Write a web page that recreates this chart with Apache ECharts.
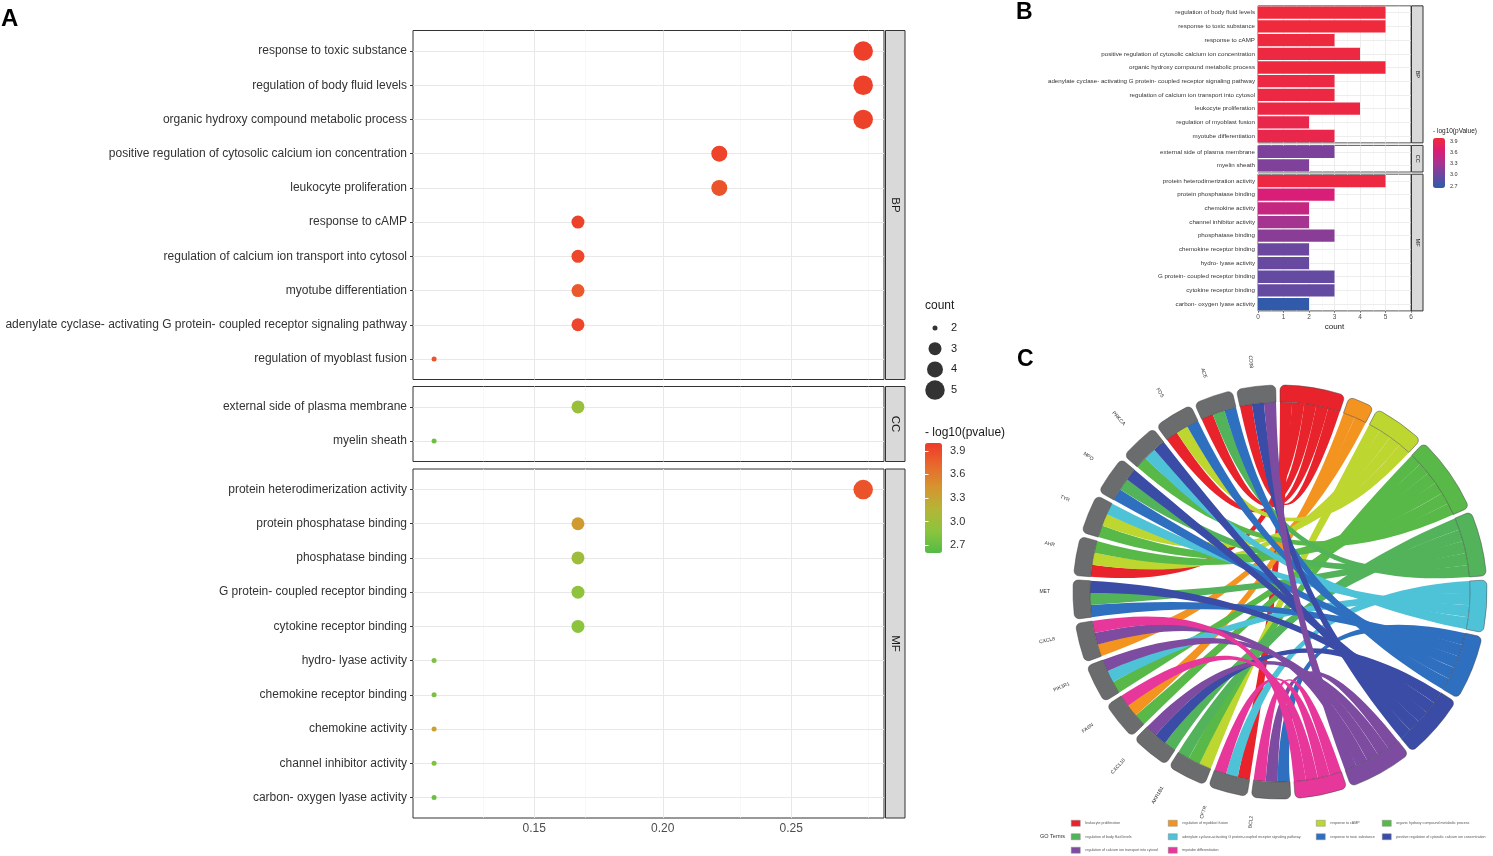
<!DOCTYPE html>
<html><head><meta charset="utf-8">
<script src="https://cdn.jsdelivr.net/npm/echarts@6.0.0/dist/echarts.min.js"></script>
<style>html,body{margin:0;padding:0;background:#fff}#c{width:1493px;height:856px}</style>
</head><body><div id="c"></div>
<script>
// ================= DATA =================
// ---- Panel A (dot plot): GeneRatio, count, -log10(pvalue) ----
const catsA_BP = ["response to toxic substance","regulation of body fluid levels","organic hydroxy compound metabolic process","positive regulation of cytosolic calcium ion concentration","leukocyte proliferation","response to cAMP","regulation of calcium ion transport into cytosol","myotube differentiation","adenylate cyclase- activating G protein- coupled receptor signaling pathway","regulation of myoblast fusion"];
const ratioA_BP = [0.278,0.278,0.278,0.222,0.222,0.167,0.167,0.167,0.167,0.111];
const countA_BP = [5,5,5,4,4,3,3,3,3,2];
const pvalA_BP  = [3.97,3.96,3.95,3.94,3.85,3.95,3.93,3.82,3.93,3.84];

const catsA_CC = ["external side of plasma membrane","myelin sheath"];
const ratioA_CC = [0.167,0.111];
const countA_CC = [3,2];
const pvalA_CC  = [2.97,2.72];

const catsA_MF = ["protein heterodimerization activity","protein phosphatase binding","phosphatase binding","G protein- coupled receptor binding","cytokine receptor binding","hydro- lyase activity","chemokine receptor binding","chemokine activity","channel inhibitor activity","carbon- oxygen lyase activity"];
const ratioA_MF = [0.278,0.167,0.167,0.167,0.167,0.111,0.111,0.111,0.111,0.111];
const countA_MF = [5,3,3,3,3,2,2,2,2,2];
const pvalA_MF  = [3.85,3.38,3.0,2.9,2.88,2.8,2.78,3.35,2.82,2.72];

const xTicksA = [0.15,0.20,0.25];
const xMinorA = [0.125,0.175,0.225,0.275];
const sizeLegendA = ["2","3","4","5"];
const colorTicksA = [2.7,3.0,3.3,3.6,3.9];

// ---- Panel B (bar chart): count, -log10(pValue) ----
const catsB_BP = ["regulation of body fluid levels","response to toxic substance","response to cAMP","positive regulation of cytosolic calcium ion concentration","organic hydroxy compound metabolic process","adenylate cyclase- activating G protein- coupled receptor signaling pathway","regulation of calcium ion transport into cytosol","leukocyte proliferation","regulation of myoblast fusion","myotube differentiation"];
const countB_BP = [5,5,3,4,5,3,3,4,2,3];
const pvalB_BP  = [3.97,3.97,3.95,3.94,3.96,3.93,3.93,3.92,3.88,3.88];

const catsB_CC = ["external side of plasma membrane","myelin sheath"];
const countB_CC = [3,2];
const pvalB_CC  = [3.08,3.1];

const catsB_MF = ["protein heterodimerization activity","protein phosphatase binding","chemokine activity","channel inhibitor activity","phosphatase binding","chemokine receptor binding","hydro- lyase activity","G protein- coupled receptor binding","cytokine receptor binding","carbon- oxygen lyase activity"];
const countB_MF = [5,3,2,2,3,2,2,3,3,2];
const pvalB_MF  = [3.93,3.62,3.5,3.3,3.15,2.98,2.97,2.95,2.95,2.68];
const colorTicksB = [2.7,3.0,3.3,3.6,3.9];

// ---- Panel C (GO chord) ----
const chordTerms = ["leukocyte proliferation","regulation of myoblast fusion","response to cAMP","organic hydroxy compound metabolic process","regulation of body fluid levels","adenylate cyclase-activating G protein-coupled receptor signaling pathway","response to toxic substance","positive regulation of cytosolic calcium ion concentration","regulation of calcium ion transport into cytosol","myotube differentiation"];
// genes in clockwise order (bottom -> top along the left side)
const chordGenes = ["BCL2","CFTR","AKR1B1","CXCL10","FASN","PIK3R1","CXCL8","MET","AHR","TYR","MPO","PRKCA","FOS","ACE","CD38"];
// term memberships (indices into chordTerms) for each gene
const geneTerms = [[6,8,9],[0,5,9],[2,3,4],[4,7,8],[3,1,9],[3,5,8],[1,8,9],[6,4,7],[0,2,3],[3,2,5],[6,4,7],[3,5,7],[0,2,6],[0,4,6],[0,7,8]];

// ================= STYLE =================
const FONT = '"Liberation Sans", Arial, Helvetica, sans-serif';
const SIZE_A = {2:5, 3:13, 4:16, 5:19.5};
const colorsA = ['#55bb47','#8cc43e','#b5b536','#d6942f','#e8682c','#ee3a2a'];
const colorsB = ['#2b5cab','#6a48a0','#a8338f','#dc1c74','#ef2a3a'];
const ribbonColors = ['#e8232c','#f39420','#bed630','#58b848','#52b35a','#4ec3d8','#2f6fc0','#3a4ca6','#7d4b9f','#e8379b'];
const GENE_GRAY = '#6b6c6e';

const option = {animation:false, backgroundColor:'#fff', textStyle:{fontFamily:FONT},
  grid:[], xAxis:[], yAxis:[], series:[], graphic:[], visualMap:[], legend:[]};
function addGrid(g){ option.grid.push(Object.assign({outerBoundsMode:'none', containLabel:false}, g)); return option.grid.length-1; }
function addX(a){ option.xAxis.push(a); return option.xAxis.length-1; }
function addY(a){ option.yAxis.push(a); return option.yAxis.length-1; }
function addS(s){ option.series.push(s); return option.series.length-1; }
function txt(x,y,text,size,opts){ option.graphic.push(Object.assign({type:'text', x:x, y:y, silent:true, z:50,
  style:Object.assign({text:text, x:0, y:0, font:(opts&&opts.weight?opts.weight+' ':'')+size+'px '+FONT, fill:(opts&&opts.fill)||'#1a1a1a', align:(opts&&opts.align)||'left', verticalAlign:'middle'},(opts&&opts.style)||{})}, (opts&&opts.el)||{})); }
function rect(x,y,w,h){ option.graphic.push({type:'rect', silent:true, z:40, shape:{x:x,y:y,width:w,height:h}, style:{fill:'#d9d9d9', stroke:'#333', lineWidth:1}}); }

// ================= PANEL A =================
const facetsA = [
  {cats:catsA_BP, ratio:ratioA_BP, count:countA_BP, p:pvalA_BP, top:30.5, height:349, strip:'BP'},
  {cats:catsA_CC, ratio:ratioA_CC, count:countA_CC, p:pvalA_CC, top:386.5, height:75, strip:'CC'},
  {cats:catsA_MF, ratio:ratioA_MF, count:countA_MF, p:pvalA_MF, top:469, height:349, strip:'MF'}
];
const seriesA = [];
facetsA.forEach((f,k)=>{
  const last = k===facetsA.length-1;
  const n = f.cats.length;
  const idx = f.cats.map((c,j)=>j);
  const gi = addGrid({left:413, top:f.top, width:471, height:f.height, show:true, borderColor:'#333', borderWidth:1, backgroundColor:'#fff'});
  const xi = addX({gridIndex:gi, type:'value', min:0.1028, max:0.2861, axisLine:{show:false}, splitLine:{show:false},
    axisTick:{show:last, customValues:xTicksA, length:3, lineStyle:{color:'#333'}},
    axisLabel:{show:last, customValues:xTicksA, formatter:v=>v.toFixed(2), fontSize:12, color:'#4d4d4d', margin:5}});
  const yi = addY({gridIndex:gi, type:'value', inverse:true, min:-0.6, max:n-0.4, axisLine:{show:false}, splitLine:{show:false},
    axisTick:{show:true, customValues:idx, length:3, lineStyle:{color:'#333'}},
    axisLabel:{customValues:idx, formatter:v=>f.cats[Math.round(v)], fontSize:12, color:'#333', margin:6}});
  const grid = [].concat(
    xMinorA.map(v=>({xAxis:v, lineStyle:{color:'#f3f3f3', width:0.6, type:'solid'}})),
    xTicksA.map(v=>({xAxis:v, lineStyle:{color:'#e8e8e8', width:1, type:'solid'}})),
    idx.map(j=>({yAxis:j, lineStyle:{color:'#e8e8e8', width:1, type:'solid'}})));
  seriesA.push(addS({type:'scatter', xAxisIndex:xi, yAxisIndex:yi, z:3,
    data:f.cats.map((c,j)=>[f.ratio[j], j, f.p[j], f.count[j]]),
    symbolSize:v=>SIZE_A[v[3]], itemStyle:{opacity:1}, emphasis:{disabled:true},
    markLine:{silent:true, symbol:'none', z:1, animation:false, label:{show:false}, lineStyle:{type:'solid'}, data:grid}}));
  rect(885.5, f.top, 19.5, f.height);
  txt(895.5, f.top+f.height/2, f.strip, 11.5, {align:'center', el:{rotation:-Math.PI/2}});
});

// size legend (count)
txt(925, 306, 'count', 12);
{
  const gi = addGrid({left:925, top:317.7, width:20, height:82.7});
  const xi = addX({gridIndex:gi, type:'value', min:-1, max:1, show:false});
  const yi = addY({gridIndex:gi, type:'category', data:sizeLegendA, inverse:true, position:'right',
    axisLine:{show:false}, axisTick:{show:false}, splitLine:{show:false},
    axisLabel:{fontSize:11, color:'#1a1a1a', margin:6}});
  addS({type:'scatter', xAxisIndex:xi, yAxisIndex:yi, data:sizeLegendA.map(c=>[0,c]),
    symbolSize:v=>SIZE_A[+v[1]], itemStyle:{color:'#000'}, emphasis:{disabled:true}, silent:true});
}
// colour legend A
txt(925, 433, '- log10(pvalue)', 12);
{
  const gi = addGrid({left:925, top:443, width:17, height:110});
  addX({gridIndex:gi, type:'value', min:0, max:1, show:false});
  addY({gridIndex:gi, type:'value', min:2.6, max:4.0, position:'right', z:10, axisLine:{show:false}, splitLine:{show:false},
    axisTick:{inside:true, length:3.5, customValues:colorTicksA, lineStyle:{color:'#fff', width:1}},
    axisLabel:{customValues:colorTicksA, formatter:v=>v.toFixed(1), fontSize:11, color:'#333', margin:8}});
  addY({gridIndex:gi, type:'value', min:2.6, max:4.0, position:'left', z:10, axisLine:{show:false}, splitLine:{show:false},
    axisTick:{inside:true, length:3.5, customValues:colorTicksA, lineStyle:{color:'#fff', width:1}},
    axisLabel:{show:false}});
}
option.visualMap.push({type:'continuous', min:2.6, max:4.0, dimension:2, seriesIndex:seriesA,
  inRange:{color:colorsA}, left:925, top:443, itemWidth:17, itemHeight:110, padding:0,
  calculable:false, text:null, showLabel:false, hoverLink:false, z:2});

// ================= PANEL B =================
const facetsB = [
  {cats:catsB_BP, count:countB_BP, p:pvalB_BP, top:5.85, height:137, strip:'BP'},
  {cats:catsB_CC, count:countB_CC, p:pvalB_CC, top:145.4, height:26.6, strip:'CC'},
  {cats:catsB_MF, count:countB_MF, p:pvalB_MF, top:174.2, height:136.7, strip:'MF'}
];
const seriesB = [];
facetsB.forEach((f,k)=>{
  const last = k===facetsB.length-1;
  const gi = addGrid({left:1258, top:f.top, width:153, height:f.height, show:true, borderColor:'#333', borderWidth:0.8, backgroundColor:'#fff'});
  const xi = addX({gridIndex:gi, type:'value', min:0, max:6, interval:1, axisLine:{show:false},
    splitLine:{show:true, lineStyle:{color:'#e8e8e8', width:0.8}},
    minorTick:{show:false, splitNumber:2}, minorSplitLine:{show:true, lineStyle:{color:'#f3f3f3', width:0.5}},
    axisTick:{show:last, length:2, lineStyle:{color:'#333', width:0.6}},
    axisLabel:{show:last, fontSize:6.5, color:'#4d4d4d', margin:3},
    name:last?'count':'', nameLocation:'middle', nameGap:12, nameTextStyle:{fontSize:8, color:'#1a1a1a'}});
  const yi = addY({gridIndex:gi, type:'category', data:f.cats, inverse:true, axisLine:{show:false}, splitLine:{show:false},
    axisTick:{alignWithLabel:true, length:2, lineStyle:{color:'#333', width:0.6}},
    axisLabel:{fontSize:6.2, color:'#333', margin:3}});
  seriesB.push(addS({type:'bar', xAxisIndex:xi, yAxisIndex:yi, z:3, barCategoryGap:'10%',
    data:f.cats.map((c,j)=>[f.count[j], c, f.p[j]]), encode:{x:0, y:1}, emphasis:{disabled:true},
    markLine:{silent:true, symbol:'none', z:1, animation:false, label:{show:false}, lineStyle:{type:'solid'},
      data:f.cats.map(c=>({yAxis:c, lineStyle:{color:'#e8e8e8', width:0.8, type:'solid'}}))}}));
  rect(1411.5, f.top, 11.5, f.height);
  txt(1417.2, f.top+f.height/2, f.strip, 5.5, {align:'center', el:{rotation:-Math.PI/2}});
});
txt(1433, 131, '- log10(pValue)', 6.5);
{
  const gi = addGrid({left:1433, top:138, width:12, height:50});
  addX({gridIndex:gi, type:'value', min:0, max:1, show:false});
  addY({gridIndex:gi, type:'value', min:2.65, max:3.98, position:'right', z:10, axisLine:{show:false}, splitLine:{show:false},
    axisTick:{inside:true, length:2.5, customValues:colorTicksB, lineStyle:{color:'#fff', width:0.6}},
    axisLabel:{customValues:colorTicksB, formatter:v=>v.toFixed(1), fontSize:5.5, color:'#333', margin:5}});
}
option.visualMap.push({type:'continuous', min:2.65, max:3.98, dimension:2, seriesIndex:seriesB,
  inRange:{color:colorsB}, left:1433, top:138, itemWidth:12, itemHeight:50, padding:0,
  calculable:false, text:null, showLabel:false, hoverLink:false, z:2});

// ================= PANEL C =================
const chordNodes = chordTerms.map((t,i)=>({name:t, itemStyle:{color:ribbonColors[i]}}))
  .concat(chordGenes.map(g=>({name:g, itemStyle:{color:GENE_GRAY}})));
const chordLinks = [];
chordGenes.forEach((g,gi)=>geneTerms[gi].forEach(t=>chordLinks.push({source:chordTerms[t], target:g, value:1})));
addS({type:'chord', center:[1280,592], radius:[190,207], startAngle:90, clockwise:true, padAngle:1.2,
  itemStyle:{borderColor:'#444', borderWidth:0.5},
  lineStyle:{color:'source', opacity:1},
  label:{show:false},
  emphasis:{disabled:true},
  data:chordNodes, links:chordLinks});
// gene labels: transparent ring with the same gene sizes, radial labels
const termLinkTotal = geneTerms.reduce((a,g)=>a+g.length,0);
addS({type:'pie', center:[1280,592], radius:[190,207], startAngle:90, clockwise:true, padAngle:1.2, silent:true, z:5,
  avoidLabelOverlap:false, emphasis:{disabled:true}, itemStyle:{color:'rgba(0,0,0,0)'},
  label:{show:true, position:'outside', rotate:'radial', fontSize:5, color:'#333', fontFamily:FONT},
  labelLine:{show:false, length:18, length2:0},
  data:[{name:'GO terms', value:termLinkTotal, label:{show:false}}].concat(chordGenes.map((g,i)=>({name:g, value:geneTerms[i].length})))});

const legendCols = [[0,4,8],[1,5,9],[2,6],[3,7]];
const legendX = [1071,1168,1316,1382];
legendCols.forEach((col,k)=>option.legend.push({orient:'vertical', left:legendX[k], top:820, padding:0,
  itemWidth:9, itemHeight:6, itemGap:7, icon:'rect', selectedMode:false,
  itemStyle:{borderColor:'#888', borderWidth:0.5},
  textStyle:{fontSize:3.6, color:'#555', fontFamily:FONT}, data:col.map(i=>chordTerms[i])}));
txt(1040, 836.5, 'GO Terms', 5.5, {fill:'#333'});

// panel letters
txt(1, 19, 'A', 24, {weight:'bold', fill:'#000'});
txt(1016, 13, 'B', 23, {weight:'bold', fill:'#000'});
txt(1017, 360, 'C', 23, {weight:'bold', fill:'#000'});

const chart = echarts.init(document.getElementById('c'));
chart.setOption(option);
</script></body></html>
